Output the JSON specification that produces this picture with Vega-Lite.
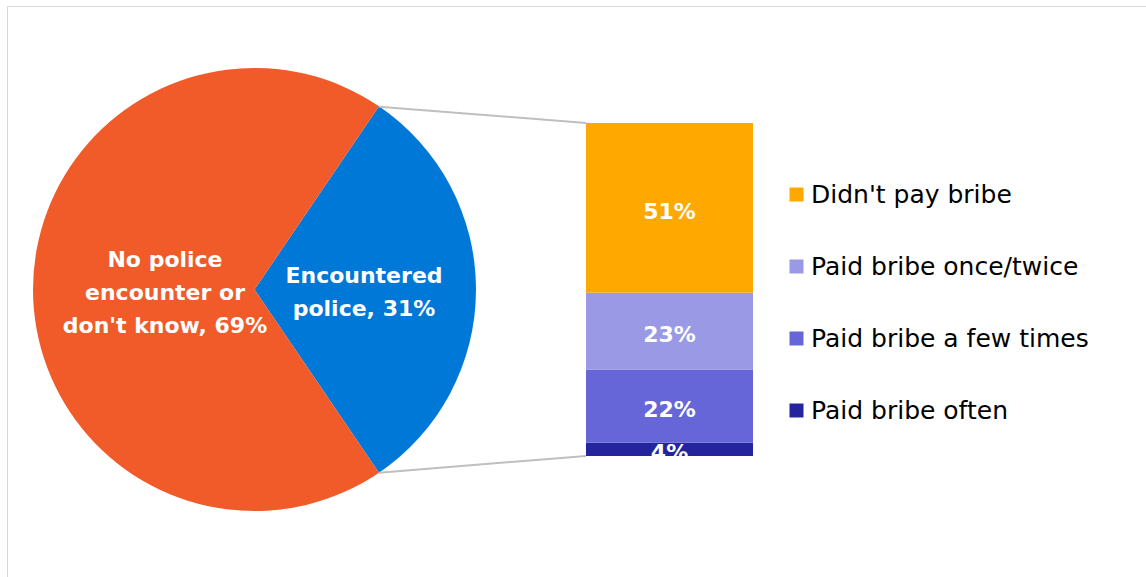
{
  "$schema": "https://vega.github.io/schema/vega-lite/v6.json",
  "width": 1146,
  "height": 577,
  "autosize": {"type": "fit", "contains": "padding"},
  "padding": {"left": 7, "top": 6, "right": 0, "bottom": 0},
  "background": "white",
  "config": {"view": {"stroke": "#D9D9D9", "strokeWidth": 1}, "font": "DejaVu Sans"},
  "datasets": {
    "pie": [
      {"group": "Encountered police", "label": "Encountered\npolice, 31%", "value": 31, "order": 1},
      {"group": "No police encounter or don't know", "label": "No police\nencounter or\ndon't know, 69%", "value": 69, "order": 2}
    ],
    "bar": [
      {"answer": "Paid bribe often", "label": "4%", "value": 4, "order": 1},
      {"answer": "Paid bribe a few times", "label": "22%", "value": 22, "order": 2},
      {"answer": "Paid bribe once/twice", "label": "23%", "value": 23, "order": 3},
      {"answer": "Didn't pay bribe", "label": "51%", "value": 51, "order": 4}
    ]
  },
  "layer": [
    {
      "data": {"name": "pie"},
      "mark": {"type": "arc", "outerRadius": 221.5},
      "encoding": {
        "x": {"datum": 254.5, "type": "quantitative", "scale": {"domain": [7, 1146]}, "axis": null},
        "y": {"datum": 50, "type": "quantitative", "scale": {"domain": [-36.34, 135.14]}, "axis": null},
        "theta": {"field": "value", "type": "quantitative", "stack": true, "scale": {"range": [0.5969, 6.8801]}},
        "order": {"field": "order", "type": "quantitative"},
        "color": {"field": "group", "type": "nominal", "scale": {"domain": ["Encountered police", "No police encounter or don't know"], "range": ["#0078D7", "#F15A29"]}, "legend": null}
      }
    },
    {
      "data": {"name": "pie"},
      "mark": {"type": "text", "radius": 89.5, "dy": -30, "fontSize": 22, "fontWeight": "bold", "color": "white", "lineBreak": "\n", "lineHeight": 33, "align": "center", "baseline": "middle"},
      "encoding": {
        "x": {"datum": 254.5, "type": "quantitative", "scale": {"domain": [7, 1146]}, "axis": null},
        "y": {"datum": 50, "type": "quantitative", "scale": {"domain": [-36.34, 135.14]}, "axis": null},
        "theta": {"field": "value", "type": "quantitative", "stack": true, "scale": {"range": [0.5969, 6.8801]}},
        "order": {"field": "order", "type": "quantitative"},
        "text": {"condition": {"test": "datum.order == 2", "field": "label"}, "value": ""}
      }
    },
    {
      "data": {"name": "pie"},
      "mark": {"type": "text", "radius": 109.5, "dy": -14, "fontSize": 22, "fontWeight": "bold", "color": "white", "lineBreak": "\n", "lineHeight": 33, "align": "center", "baseline": "middle"},
      "encoding": {
        "x": {"datum": 254.5, "type": "quantitative", "scale": {"domain": [7, 1146]}, "axis": null},
        "y": {"datum": 50, "type": "quantitative", "scale": {"domain": [-36.34, 135.14]}, "axis": null},
        "theta": {"field": "value", "type": "quantitative", "stack": true, "scale": {"range": [0.5969, 6.8801]}},
        "order": {"field": "order", "type": "quantitative"},
        "text": {"condition": {"test": "datum.order == 1", "field": "label"}, "value": ""}
      }
    },
    {
      "data": {"values": [{}]},
      "mark": {"type": "rule", "color": "#BFBFBF", "strokeWidth": 2},
      "encoding": {
        "x": {"datum": 379, "type": "quantitative", "scale": {"domain": [7, 1146]}, "axis": null},
        "y": {"datum": 104.9, "type": "quantitative", "scale": {"domain": [-36.34, 135.14]}, "axis": null},
        "x2": {"datum": 586},
        "y2": {"datum": 100}
      }
    },
    {
      "data": {"values": [{}]},
      "mark": {"type": "rule", "color": "#BFBFBF", "strokeWidth": 2},
      "encoding": {
        "x": {"datum": 379, "type": "quantitative", "scale": {"domain": [7, 1146]}, "axis": null},
        "y": {"datum": -5.0, "type": "quantitative", "scale": {"domain": [-36.34, 135.14]}, "axis": null},
        "x2": {"datum": 586},
        "y2": {"datum": 0}
      }
    },
    {
      "data": {"name": "bar"},
      "transform": [
        {"stack": "value", "groupby": [], "sort": [{"field": "order", "order": "ascending"}], "as": ["v0", "v1"]},
        {"calculate": "(datum.v0 + datum.v1) / 2", "as": "vmid"}
      ],
      "layer": [
        {
          "mark": {"type": "bar"},
          "encoding": {
            "x": {"datum": 586, "type": "quantitative", "scale": {"domain": [7, 1146]}, "axis": null},
            "x2": {"datum": 753},
            "y": {"field": "v0", "type": "quantitative", "scale": {"domain": [-36.34, 135.14]}, "axis": null},
            "y2": {"field": "v1"},
            "color": {
              "field": "answer",
              "type": "nominal",
              "scale": {"domain": ["Didn't pay bribe", "Paid bribe once/twice", "Paid bribe a few times", "Paid bribe often"], "range": ["#FFA800", "#9999E6", "#6666D9", "#24249C"]},
              "legend": {
                "title": null,
                "orient": "none",
                "legendX": 777,
                "legendY": 176,
                "symbolType": "square",
                "symbolSize": 196,
                "symbolStrokeWidth": 0,
                "symbolOpacity": 1,
                "labelFont": "DejaVu Sans",
                "labelFontSize": 25,
                "labelColor": "#000000",
                "labelOffset": 2,
                "labelLimit": 0,
                "rowPadding": 46
              }
            }
          }
        },
        {
          "mark": {"type": "text", "fontSize": 22, "fontWeight": "bold", "color": "white", "align": "center", "baseline": "middle", "dy": 4},
          "encoding": {
            "x": {"datum": 669.5, "type": "quantitative", "scale": {"domain": [7, 1146]}, "axis": null},
            "y": {"field": "vmid", "type": "quantitative", "scale": {"domain": [-36.34, 135.14]}, "axis": null},
            "text": {"field": "label"}
          }
        }
      ]
    }
  ],
  "resolve": {"scale": {"color": "independent"}}
}
